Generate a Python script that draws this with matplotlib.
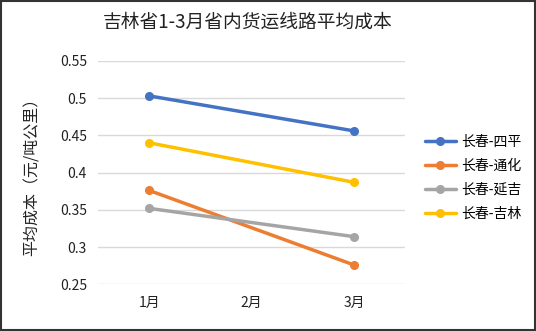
import numpy as np
import matplotlib.pyplot as plt
from matplotlib.patches import Rectangle

plt.rcParams['font.family'] = ['Noto Sans CJK SC', 'DejaVu Sans']

months = ['1月', '2月', '3月']
routes = ['长春-四平', '长春-通化', '长春-延吉', '长春-吉林']
# 2月 has no data, the line just joins 1月 and 3月
siping = [0.503, np.nan, 0.456]
tonghua = [0.376, np.nan, 0.276]
yanji = [0.352, np.nan, 0.314]
jilin = [0.440, np.nan, 0.387]
colors = ['#4472C4', '#ED7D31', '#A5A5A5', '#FFC000']

fig = plt.figure(figsize=(5.36, 3.31), dpi=100)
ax = fig.add_axes([0.183, 0.141, 0.573, 0.675])

x = np.arange(len(months))
for name, vals, c in zip(routes, [siping, tonghua, yanji, jilin], colors):
    v = np.array(vals, dtype=float)
    ok = ~np.isnan(v)
    ax.plot(x[ok], v[ok], color=c, lw=2.5, marker='o', ms=5.5, label=name,
            solid_capstyle='round')

ax.set_xlim(-0.5, 2.5)
ax.set_ylim(0.25, 0.55)
ax.set_yticks([0.25, 0.3, 0.35, 0.4, 0.45, 0.5, 0.55])
ax.set_yticklabels(['0.25', '0.3', '0.35', '0.4', '0.45', '0.5', '0.55'])
ax.set_xticks(x)
ax.set_xticklabels(months)
ax.tick_params(length=0, labelsize=10, colors='#222222', pad=8)
ax.grid(axis='y', color='#D9D9D9', lw=1)
ax.set_axisbelow(True)
for s in ax.spines.values():
    s.set_visible(False)

ax.set_ylabel('平均成本（元/吨公里）', fontsize=11.5, color='#222222', labelpad=14)
fig.text(0.463, 0.933, '吉林省1-3月省内货运线路平均成本', ha='center', va='center',
         fontsize=13.5, color='#222222')

ax.legend(loc='center left', bbox_to_anchor=(0.77, 0.464), bbox_transform=fig.transFigure,
          frameon=False, fontsize=10, handlelength=2.2, handletextpad=0.4,
          labelspacing=0.72)

fig.add_artist(Rectangle((0.001, 0.002), 0.997, 0.995, transform=fig.transFigure,
                         fill=False, edgecolor='#333333', lw=1.5))

fig.savefig('out.png', dpi=100)
